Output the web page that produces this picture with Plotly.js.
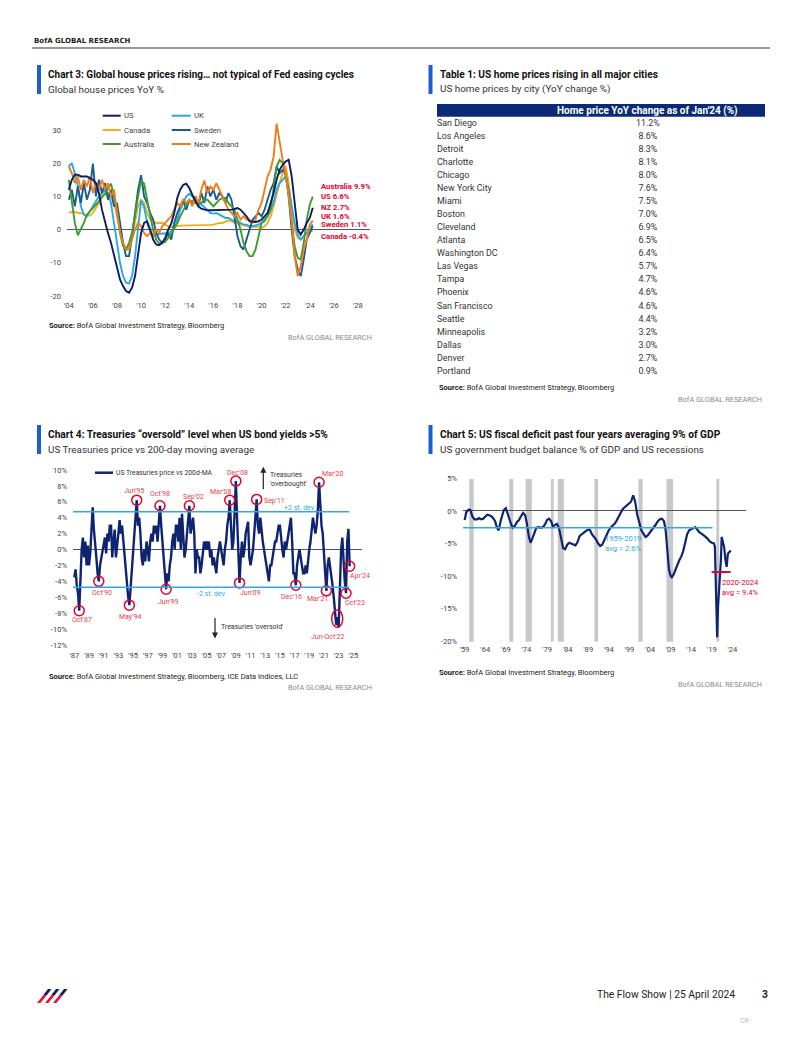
<!DOCTYPE html>
<html><head><meta charset="utf-8">
<script src="https://cdn.plot.ly/plotly-3.0.1.min.js"></script>
<style>html,body{margin:0;padding:0;background:#fff;}#page{width:802px;height:1037px;}</style>
</head><body><div id="page"></div>
<script>
// ---------------- DATA ----------------
// Chart 3: Global house prices YoY %, quarterly from 2004Q1
const houseStartYear = 2004;
const usHouse = [12,15,16.5,16.5, 16,16,16,15.5, 15,14,11,6, 2,-1,-4,-8, -12,-15,-17,-18.5, -19,-17.5,-14,-8, -1,2,2.5,0, -3,-4.5,-4.7,-4, -2.5,0,1.8,5, 9.5,12,13.5,13.8, 12.5,10.5,8.5,7, 6.3,6,5.8,5.8, 5.8,5.8,5.8,5.8, 6,6,6,6.2, 6.5,6,5,4, 2.5,2.3,2.3,2.5, 3,4,5,8, 11,15,18,19.5, 20.5,21,16,8, 0,-1.5,0,2, 3.5,6.6];
const ukHouse = [19,20,17,13, 7,4.5,4,5.5, 7,8.5,10,11, 11.8,11,8,2, -4,-10,-14,-16, -16.3,-14,-8,0, 8.8,6.8,2,-0.5, -1.7,-1.5,-1.3,-1.2, -1.2,-1,-0.5,0, 3,6,8,10, 10.8,10,8.8,8, 7.5,6.8,6,5, 4.8,5,4.5,4, 3.5,3.5,3,2.5, 2.5,2,1.5,1.5, 1,1,1.2,1.5, 2,2.5,4,6, 8,12,14,15, 16,12,7,2, -1.5,-3,-2,-1, 0.5,1.6];
const caHouse = [5,5.3,5.3,5, 5,4.5,4.2,4.2, 5,6.5,8,9.5, 10.5,11,10,8, 4,0,-4,-6, -5,-2,3,7, 9,8,5,3, 2.5,2,2,2, 1.5,1,0.8,0.8, 1,1.2,1.2,1.2, 1.2,1.3,1.3,1.2, 1.2,1.2,1.3,1.4, 1.5,1.8,2,2, 2.5,2.8,2.5,2, 1.8,1.5,1.3,1, 0.8,0.8,0.8,0.8, 0.5,1,2,4, 7,11,14,17, 19,14,6,0, -2.5,-3,-2,-1, -0.5,-0.4];
const seHouse = [9,12,7,13, 8,14,9,12, 19.9,10,15,11, 14,9,12,7, 8,2,-4,-8, -8,-2,6,12, 16.4,10,8,5, 3,-1,-3,-4, -3,-1,-3,2, 5,7,9,6, 9,8,10,7, 11,8,13,10, 12,9,11,10, 8,11,9,4, -2,-5,-6,-3, 0,3,4,5, 4,6,9,12, 14,19,17,18, 17,10,0,-8, -12,-14,-9,-3, -1,1.1];
const auHouse = [15,8,2,-1.7, 0,2,4.5,5.5, 6.5,7.5,8.5,10, 10.8,12.5,13.8,10, 6,-1,-5,-6, -4,-1,5,10, 14.8,13.8,9,4, -0.2,-3,-4.2,-4, -3.7,-2.5,-1.2,0.5, 1.8,4,5.8,7.5, 8.8,8.5,8,8, 8,9,9,8, 7,8,9,9.5, 9.5,8,7,6, 3,0,-4,-6.5, -8,-8,-6,-2, 2,3,4,6, 12,19,21,20, 16,11,2,-5, -8.5,-9,-4,3, 7.5,9.9];
const nzHouse = [19,17,14,16, 12,15,13,16, 11,14,12,15, 12,14,10,12, 5,-1,-4,-6, -6,-3,0,2, 1,-1,-2,-1, -2,0,-1,1, 2,3,4,6, 8,7,9,8, 9,7,10,8, 12,14.8,11,13, 12,14,12,10, 8,6,5,4, 5,3,4,3, 3,2,3,6, 8,12,16,18, 22,31.9,26,21, 17,10,3,-8, -14,-11,-6,-3, 1.5,2.7];
const houseNames = ['US','UK','Canada','Sweden','Australia','New Zealand'];
const houseXTickVals = [2004,2006,2008,2010,2012,2014,2016,2018,2020,2022,2024,2026,2028];
const houseXTickText = ["'04","'06","'08","'10","'12","'14","'16","'18","'20","'22","'24","'26","'28"];
const houseYTickVals = [-20,-10,0,10,20,30];
const houseYTickText = ['-20','-10','0','10','20','30'];
const houseEndNames = ['Australia','US','NZ','UK','Sweden','Canada'];

// Table 1
const cities = ['San Diego','Los Angeles','Detroit','Charlotte','Chicago','New York City','Miami','Boston','Cleveland','Atlanta','Washington DC','Las Vegas','Tampa','Phoenix','San Francisco','Seattle','Minneapolis','Dallas','Denver','Portland'];
const cityChanges = [11.2,8.6,8.3,8.1,8.0,7.6,7.5,7.0,6.9,6.5,6.4,5.7,4.7,4.6,4.6,4.4,3.2,3.0,2.7,0.9];
const tableHeader = "Home price YoY change as of Jan'24 (%)";

// Chart 4: Treasuries price vs 200d-MA (%), bi-monthly from 1987
const tsyStartYear = 1987;
const tsyVsMA = [
 -3.5,-2.5,-4.5,-5.5,-7.7,-3,   0,1.5,-1,1,-2,0.5,   -2,-0.5,3,5.3,2.5,1,   -1,-3,-4.0,-2,-1,0,
 0.5,1.5,-0.5,2,1,3,   3,-1,1,2.5,-1,1,   2,3.7,2,3,1,0,   -2,-4,-6,-7.0,-5,-3,
 -1,1,4,6.2,3,4,   2,-1,-2,0,-1.5,1,   0,-1.5,1,2,1,3,   2,3,1,4,5.5,3,
 1,-1,-3,-5.0,-3,-4,   -2,-1,1,2,0,3,   3,1,4,0,4.5,1,   -1,0,2,3,5.5,2,
 3,4,2,-3,0,-1,   -1,-3,-2,0,1,0,   1,0,1,-1,0,-2,   -1,-2,-3,-1,0,1,
 0,-1,-2,0,1,3,   4,6.2,2,0,1,4,   8.6,4,0,-4.2,-1,1,   -1,0,2,3,3.5,-1,
 -2,-1,0,2,4,6.3,   3,2,4,2,1,0,   -1,-2,-3,-4,-2,-2,   -1,0,1,1,2,3,
 3,1,0,-1,1,0,   1,2,3,4,1,-3,   -3,-4.5,-2,-1,0,-1,   -2,-3,-3,-2,-3,-1,
 0,1,3,4,3,2,   3,5,8.45,5,3,2,   0,-3,-5.2,-2,-1,-2,   -3,-4.5,-6,-8,-9.5,-8.5,
 -9.8,-5,0,1.5,-2,-4,   -5.5,1,2.6,-2.1];
const tsyStdDev = 4.75;
const tsyXTickVals = [1987,1989,1991,1993,1995,1997,1999,2001,2003,2005,2007,2009,2011,2013,2015,2017,2019,2021,2023,2025];
const tsyXTickText = ["'87","'89","'91","'93","'95","'97","'99","'01","'03","'05","'07","'09","'11","'13","'15","'17","'19","'21","'23","'25"];
const tsyYTickVals = [-12,-10,-8,-6,-4,-2,0,2,4,6,8,10];
const tsyYTickText = ['-12%','-10%','-8%','-6%','-4%','-2%','0%','2%','4%','6%','8%','10%'];
const eventLabels = ["Oct'87","Oct'90","May'94","Jun'95","Oct'98","Jun'99","Sep'02","Mar'08","Dec'08","Jun'09","Sep'11","Dec'16","Mar'20","Mar'21","Oct'23","Apr'24"];
const eventX = [1987.667,1990.333,1994.5,1995.5,1998.667,1999.5,2002.667,2008.167,2009.0,2009.5,2011.833,2017.167,2020.333,2021.333,2024.0,2024.5];
const eventY = [-7.7,-4.0,-7.0,6.2,5.5,-5.0,5.5,6.2,8.6,-4.2,6.3,-4.5,8.45,-5.2,-5.5,-2.1];
const bigEventLabel = "Jun-Oct'22";
const bigEventBox = [2022.06, 2023.55, -9.8, -7.6];

// Chart 5: US budget balance % GDP
const deficitYears = [1959.0,1959.4,1960.0,1960.4,1960.9,1961.4,1962.0,1962.5,1963.0,1963.5,1964.0,1964.5,1965.1,1965.6,1966.0,1966.4,1966.8,1967.25,1967.8,1968.5,1969.0,1969.6,1970.2,1970.65,1971.2,1971.7,1972.2,1972.6,1973.2,1973.7,1974.1,1974.6,1975.0,1975.4,1975.9,1976.4,1977.0,1977.5,1978.0,1978.5,1979.0,1979.5,1980.0,1980.4,1980.9,1981.4,1981.9,1982.4,1982.9,1983.4,1983.9,1984.4,1984.9,1985.4,1985.9,1986.4,1986.9,1987.4,1987.9,1988.4,1988.9,1989.4,1989.9,1990.4,1990.9,1991.4,1991.9,1992.4,1992.9,1993.4,1993.9,1994.4,1994.9,1995.4,1995.9,1996.4,1996.9,1997.4,1997.9,1998.4,1998.9,1999.4,1999.9,2000.4,2000.9,2001.4,2001.9,2002.4,2002.9,2003.4,2003.9,2004.4,2004.9,2005.4,2005.9,2006.4,2006.9,2007.4,2007.8,2008.2,2008.6,2009.0,2009.3,2009.7,2010.1,2010.6,2011.1,2011.6,2012.0,2012.5,2013.0,2013.5,2014.0,2014.5,2015.0,2015.5,2016.0,2016.5,2017.0,2017.5,2018.0,2018.5,2019.0,2019.5,2019.75,2019.95,2020.1,2020.3,2020.5,2020.75,2021.0,2021.2,2021.4,2021.7,2022.0,2022.3,2022.6,2022.9,2023.3,2023.6];
const deficitPct = [-1.4,-0.2,0.2,0.1,-0.9,-1.3,-1.3,-1.1,-1.3,-1.2,-0.9,-0.6,-0.7,-0.9,-1.2,-1.6,-2.5,-3.0,-1.4,0.1,0.4,-0.9,-1.9,-2.6,-2.3,-1.7,-1.4,-0.9,-0.3,-0.7,-1.9,-4.0,-4.9,-4.3,-3.5,-2.6,-2.5,-2.6,-2.5,-2.1,-1.4,-1.2,-1.6,-2.4,-2.2,-2.0,-2.6,-4.2,-5.7,-5.9,-5.2,-4.9,-5.0,-5.2,-5.3,-4.8,-3.9,-3.6,-3.3,-3.1,-2.9,-2.9,-3.6,-4.0,-4.4,-5.0,-5.4,-5.2,-4.4,-3.8,-3.1,-2.6,-2.3,-2.0,-1.5,-1.0,-0.3,0.3,0.6,0.9,1.2,1.4,2.4,1.4,-0.6,-2.0,-3.0,-3.5,-4.0,-3.8,-3.4,-3.0,-2.6,-2.1,-1.6,-1.3,-1.2,-1.6,-3.0,-6.0,-9.0,-10.0,-10.2,-9.8,-9.1,-8.4,-7.6,-7.0,-6.3,-5.0,-3.6,-3.0,-2.8,-2.6,-2.5,-2.9,-3.3,-3.5,-3.7,-4.0,-4.3,-4.7,-4.9,-5.0,-5.5,-10.0,-16.5,-19.4,-14.8,-12.0,-11.0,-7.6,-4.0,-5.0,-5.6,-7.5,-8.6,-6.6,-6.3,-6.1];
const recessionStarts = [1960.13,1969.84,1973.8,1979.95,1981.6,1990.5,2001.2,2008.0,2020.1];
const recessionEnds   = [1961.2,1970.8,1975.3,1980.6,1983.1,1991.4,2002.2,2009.6,2020.8];
const avg1959to2019 = -2.6;
const avg2020to2024 = -9.4;
const defXTickVals = [1959,1964,1969,1974,1979,1984,1989,1994,1999,2004,2009,2014,2019,2024];
const defXTickText = ["'59","'64","'69","'74","'79","'84","'89","'94","'99","'04","'09","'14","'19","'24"];
const defYTickVals = [-20,-15,-10,-5,0,5];
const defYTickText = ['-20%','-15%','-10%','-5%','0%','5%'];

// ---------------- STYLE / LAYOUT ----------------
const W = 802, H = 1037;
const PX = x => x / W;
const PY = y => 1 - y / H;
const FONT = 'Roboto, "Liberation Sans", sans-serif';
const RED = '#e4002b';
const LRED = '#e8404a';
const CYAN = '#2eaae1';
const TEXT = '#222';
const houseColors = {'US':'#0d1d63','UK':'#29a8e6','Canada':'#f6ab1f','Sweden':'#1a5c8e','Australia':'#3b9c35','New Zealand':'#f07d1b'};
const houseData = {'US':usHouse,'UK':ukHouse,'Canada':caHouse,'Sweden':seHouse,'Australia':auHouse,'New Zealand':nzHouse};
const houseDrawOrder = ['Canada','UK','Sweden','Australia','New Zealand','US'];
const houseX = usHouse.map((_, i) => houseStartYear + i / 4);
const tsyX = tsyVsMA.map((_, i) => tsyStartYear + i / 6);

const traces = [];
houseDrawOrder.forEach(n => {
  traces.push({type:'scatter', mode:'lines', x: houseX, y: houseData[n], xaxis:'x', yaxis:'y',
    line:{color: houseColors[n], width: 1.9}, hoverinfo:'skip'});
});
traces.push({type:'scatter', mode:'lines', x: tsyX, y: tsyVsMA, xaxis:'x2', yaxis:'y2',
  line:{color:'#0e2471', width:2.4}, hoverinfo:'skip'});
traces.push({type:'scatter', mode:'markers', x: eventX, y: eventY, xaxis:'x2', yaxis:'y2', cliponaxis:false,
  marker:{symbol:'circle-open', size:10, color:RED, line:{width:1.5, color:RED}}, hoverinfo:'skip'});
traces.push({type:'scatter', mode:'lines', x: deficitYears, y: deficitPct, xaxis:'x3', yaxis:'y3',
  line:{color:'#0e2471', width:2.2}, hoverinfo:'skip'});
// Table 1 as two text columns on a row-category axis
const rowIdx = cities.map((_, i) => i);
traces.push({type:'scatter', mode:'text', x: cities.map(() => 0), y: rowIdx, text: cities, textposition:'middle right',
  xaxis:'x4', yaxis:'y4', cliponaxis:false, textfont:{family:FONT, size:8.9, color:'#333'}, hoverinfo:'skip'});
traces.push({type:'scatter', mode:'text', x: cities.map(() => 0.643), y: rowIdx, text: cityChanges.map(v => v.toFixed(1) + '%'),
  textposition:'middle center', xaxis:'x4', yaxis:'y4', cliponaxis:false, textfont:{family:FONT, size:8.9, color:'#333'}, hoverinfo:'skip'});

const axBase = {showgrid:false, showline:false, ticks:'', zeroline:false, tickfont:{family:FONT, size:7.6, color:'#444'}, fixedrange:true, tickmode:'array'};

const shapes = [];
const annotations = [];
function ann(text, x, y, o) {
  o = o || {};
  annotations.push(Object.assign({text:text, x:PX(x), y:PY(y), xref:'paper', yref:'paper', showarrow:false,
    xanchor:'left', yanchor:'middle', font:{family:FONT, size:8, color:TEXT}}, o));
}
function rect(x0, y0, x1, y1, color) {
  shapes.push({type:'rect', xref:'paper', yref:'paper', x0:PX(x0), x1:PX(x1), y0:PY(y1), y1:PY(y0), fillcolor:color, line:{width:0}});
}
function pline(x0, y0, x1, y1, color, w) {
  shapes.push({type:'line', xref:'paper', yref:'paper', x0:PX(x0), x1:PX(x1), y0:PY(y0), y1:PY(y1), line:{color:color, width:w}});
}

// page header
ann('<b>BofA GLOBAL RESEARCH</b>', 32, 41, {font:{family:'DejaVu Sans', size:7, color:TEXT}});
pline(32, 48, 770, 48, '#333', 1.2);

// titles
const BAR = '#1a5fd0';
const titles = [
  [37, 'Chart 3: Global house prices rising… not typical of Fed easing cycles', 'Global house prices YoY %', 65, 10],
  [428.5, 'Table 1: US home prices rising in all major cities', 'US home prices by city (YoY change %)', 65, 10.1],
  [37, 'Chart 4: Treasuries “oversold” level when US bond yields &gt;5%', 'US Treasuries price vs 200-day moving average', 425, 10.2],
  [428.5, 'Chart 5: US fiscal deficit past four years averaging 9% of GDP', 'US government budget balance % of GDP and US recessions', 425, 10.2]
];
titles.forEach(t => {
  rect(t[0], t[3], t[0] + 4, t[3] + 29, BAR);
  ann('<b>' + t[1] + '</b>', t[0] + 9, t[3] + 9.5, {font:{family:FONT, size:t[4], color:'#111'}});
  ann(t[2], t[0] + 9, t[3] + 24, {font:{family:FONT, size:9.9, color:'#333'}});
});

// Table header
rect(437, 104, 765, 116.7, '#0b2a75');
ann('<b>' + tableHeader + '</b>', 647, 110.6, {xanchor:'center', font:{family:FONT, size:10, color:'#fff'}});

// Chart 3 legend
const legendRowsY = [115.7, 130, 144];
const legendCols = [[102.7, 120.7], [171.7, 190.7]];
houseNames.forEach((n, i) => {
  const r = Math.floor(i / 2), c = i % 2;
  pline(legendCols[c][0], legendRowsY[r], legendCols[c][1], legendRowsY[r], houseColors[n], 2);
  ann(n, legendCols[c][1] + 1, legendRowsY[r], {font:{family:FONT, size:7.7, color:'#444'}});
});
// Chart 3 end labels
const endY = [186.7, 196.7, 207.3, 216.7, 225, 236.7];
const endKey = {'Australia':'Australia','US':'US','NZ':'New Zealand','UK':'UK','Sweden':'Sweden','Canada':'Canada'};
houseEndNames.forEach((n, i) => {
  const arr = houseData[endKey[n]];
  ann('<b>' + n + ' ' + arr[arr.length - 1].toFixed(1) + '%</b>', 318.5, endY[i], {font:{family:FONT, size:7.7, color:RED}});
});

// Sources
const sources = [
  [47, 325, 'BofA Global Investment Strategy, Bloomberg', 374, 337],
  [437, 387, 'BofA Global Investment Strategy, Bloomberg', 764, 399],
  [47, 676, 'BofA Global Investment Strategy, Bloomberg, ICE Data Indices, LLC', 374, 687],
  [437, 672, 'BofA Global Investment Strategy, Bloomberg', 764, 684]
];
sources.forEach(s => {
  ann('<b>Source:</b> ' + s[2], s[0], s[1], {font:{family:FONT, size:7.5, color:TEXT}});
  ann('BofA GLOBAL RESEARCH', s[3], s[4], {xanchor:'right', font:{family:FONT, size:7.4, color:'#8a8a8a'}});
});

// Chart 4 decorations
pline(95, 472.7, 113, 472.7, '#0e2471', 2.5);
ann('US Treasuries price vs 200d-MA', 113.5, 472.7, {font:{family:FONT, size:6.8, color:'#333'}});
shapes.push({type:'line', xref:'x2', yref:'y2', x0:1986.82, x1:2024.45, y0:tsyStdDev, y1:tsyStdDev, line:{color:CYAN, width:1.5}});
shapes.push({type:'line', xref:'x2', yref:'y2', x0:1986.82, x1:2024.45, y0:-tsyStdDev, y1:-tsyStdDev, line:{color:CYAN, width:1.5}});
shapes.push({type:'circle', xref:'x2', yref:'y2', x0:bigEventBox[0], x1:bigEventBox[1], y0:bigEventBox[2], y1:bigEventBox[3], line:{color:RED, width:1.5}});
ann('+2 st. dev', 299.5, 507.7, {xanchor:'center', font:{family:FONT, size:7, color:CYAN}});
ann('-2 st. dev', 211.5, 594, {xanchor:'center', font:{family:FONT, size:7, color:CYAN}});
const eventShift = [[3,-9.5],[3,-11.7],[1,-11.7],[-3,9],[0,12],[2,-12.4],[4,9],[-9,8.3],[2,8.3],[10,-10.3],[18,-1.4],[-4,-11.7],[14,8.3],[-9,-8.3],[9,-9.7],[10,-9.7]];
eventLabels.forEach((l, i) => {
  annotations.push({text:l, x:eventX[i], y:eventY[i], xref:'x2', yref:'y2', showarrow:false, xanchor:'center', yanchor:'middle',
    xshift:eventShift[i][0], yshift:eventShift[i][1], font:{family:FONT, size:7, color:LRED}});
});
annotations.push({text:bigEventLabel, x:(bigEventBox[0] + bigEventBox[1]) / 2, y:bigEventBox[2], xref:'x2', yref:'y2', showarrow:false,
  xanchor:'center', yanchor:'middle', xshift:-10, yshift:-10, font:{family:FONT, size:7, color:LRED}});
annotations.push({text:'', x:PX(263.3), y:PY(466.7), xref:'paper', yref:'paper', showarrow:true, ax:0, ay:24, arrowhead:2, arrowsize:1, arrowwidth:1.2, arrowcolor:'#222'});
annotations.push({text:'', x:PX(215), y:PY(638.5), xref:'paper', yref:'paper', showarrow:true, ax:0, ay:-22, arrowhead:2, arrowsize:1, arrowwidth:1.2, arrowcolor:'#222'});
ann("Treasuries<br>'overbought'", 267.5, 479.5, {align:'left', font:{family:FONT, size:6.9, color:'#333'}});
ann("Treasuries 'oversold'", 219, 626.7, {font:{family:FONT, size:6.9, color:'#333'}});

// Chart 5 decorations
recessionStarts.forEach((s, i) => {
  shapes.push({type:'rect', xref:'x3', yref:'y3', x0:s, x1:recessionEnds[i], y0:-20.1, y1:4.9, fillcolor:'#c8c8c8', line:{width:0}, layer:'below'});
});
shapes.push({type:'line', xref:'x3', yref:'y3', x0:1958.6, x1:2019.2, y0:avg1959to2019, y1:avg1959to2019, line:{color:CYAN, width:1.6}});
shapes.push({type:'line', xref:'x3', yref:'y3', x0:2018.96, x1:2023.57, y0:avg2020to2024, y1:avg2020to2024, line:{color:RED, width:2}});
annotations.push({text:'1959-2019<br>avg = ' + Math.abs(avg1959to2019).toFixed(1) + '%', x:1997.45, y:-5.05, xref:'x3', yref:'y3', showarrow:false,
  xanchor:'center', yanchor:'middle', font:{family:FONT, size:7.6, color:CYAN}});
annotations.push({text:'2020-2024<br>avg = ' + Math.abs(avg2020to2024).toFixed(1) + '%', x:2025.95, y:-11.75, xref:'x3', yref:'y3', showarrow:false,
  xanchor:'center', yanchor:'middle', font:{family:FONT, size:7.6, color:RED}});

// Footer
function poly(pts) { return 'M ' + pts.map(p => PX(p[0]) + ' ' + PY(p[1])).join(' L ') + ' Z'; }
[0,1,2].forEach(k => {
  const x0 = 37 + 8 * k;
  const split = 0.42;
  const top = [[x0 + 11, 989], [x0 + 14.5, 989], [x0 + 14.5 - 11 * split, 989 + 14 * split], [x0 + 11 - 11 * split, 989 + 14 * split]];
  const bot = [[x0 + 11 - 11 * split, 989 + 14 * split], [x0 + 14.5 - 11 * split, 989 + 14 * split], [x0 + 3.5, 1003], [x0, 1003]];
  shapes.push({type:'path', xref:'paper', yref:'paper', path:poly(top), fillcolor:'#012169', line:{width:0}});
  shapes.push({type:'path', xref:'paper', yref:'paper', path:poly(bot), fillcolor:'#e31837', line:{width:0}});
});
ann('The Flow Show | 25 April 2024', 737, 994, {xanchor:'right', font:{family:FONT, size:10.3, color:TEXT}});
ann('<b>3</b>', 759.5, 994, {font:{family:FONT, size:10.3, color:TEXT}});
ann('CR', 738, 1021, {font:{family:FONT, size:7, color:'#bbbbbb'}});

const hidden = {showgrid:false, showline:false, zeroline:false, showticklabels:false, ticks:'', fixedrange:true};
const layout = {
  width:W, height:H, margin:{l:0, r:0, t:0, b:0}, paper_bgcolor:'#fff', plot_bgcolor:'rgba(0,0,0,0)',
  showlegend:false, font:{family:FONT, size:8, color:'#333'},
  xaxis: Object.assign({}, axBase, {domain:[PX(67), PX(370)], range:[2003.85, 2029], anchor:'y', tickvals:houseXTickVals, ticktext:houseXTickText}),
  yaxis: Object.assign({}, axBase, {domain:[PY(299.3), PY(120)], range:[-21, 33], anchor:'x', tickvals:houseYTickVals, ticktext:houseYTickText,
    zeroline:true, zerolinecolor:'#555', zerolinewidth:1, ticklabelstandoff:5}),
  xaxis2: Object.assign({}, axBase, {domain:[PX(73), PX(362)], range:[1986.82, 2026.18], anchor:'y2', tickvals:tsyXTickVals, ticktext:tsyXTickText}),
  yaxis2: Object.assign({}, axBase, {domain:[PY(648.9), PY(466)], range:[-12.5, 10.5], anchor:'x2', tickvals:tsyYTickVals, ticktext:tsyYTickText,
    zeroline:true, zerolinecolor:'#555', zerolinewidth:1.5, ticklabelstandoff:5}),
  xaxis3: Object.assign({}, axBase, {domain:[PX(463), PX(746)], range:[1958.6, 2027.3], anchor:'y3', tickvals:defXTickVals, ticktext:defXTickText}),
  yaxis3: Object.assign({}, axBase, {domain:[PY(643), PY(476.35)], range:[-20.3, 5.3], anchor:'x3', tickvals:defYTickVals, ticktext:defYTickText,
    zeroline:true, zerolinecolor:'#555', zerolinewidth:1.2, ticklabelstandoff:5}),
  xaxis4: Object.assign({}, hidden, {domain:[PX(437), PX(765)], range:[0, 1], anchor:'y4'}),
  yaxis4: Object.assign({}, hidden, {domain:[PY(378.2), PY(116.8)], range:[19.5, -0.5], anchor:'x4'}),
  shapes: shapes, annotations: annotations
};
Plotly.newPlot('page', traces, layout, {displayModeBar:false, staticPlot:true});
</script></body></html>
